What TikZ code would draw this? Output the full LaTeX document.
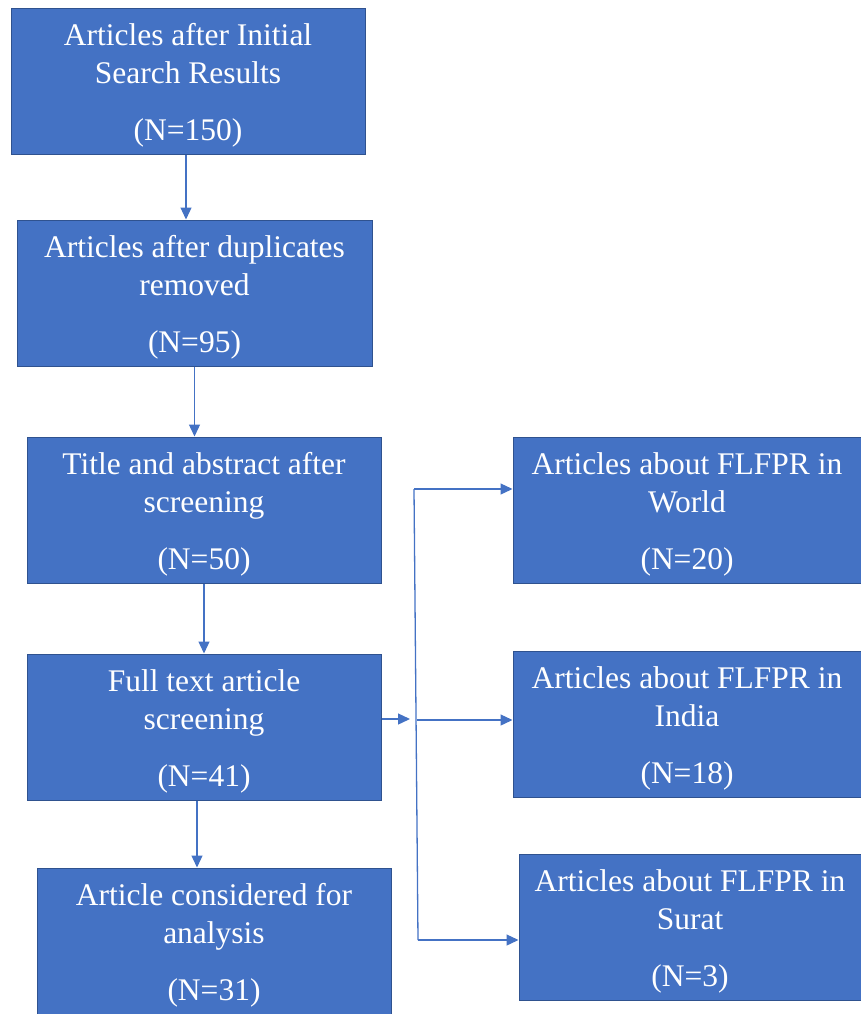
\documentclass[tikz,border=0pt]{standalone}
\usepackage{fontspec}
\setmainfont{Liberation Serif}
\newfontfamily\boxfont{Liberation Serif}
\usetikzlibrary{arrows.meta, positioning, calc}

\newcommand\lift{\rule{0pt}{30pt}}

\begin{document}
\begin{tikzpicture}[
    x=1pt, y=-1pt,
    every node/.style={font=\boxfont\fontsize{31.5}{38}\selectfont},
    box/.style={draw=boxline, fill=boxfill, text=white, line width=1pt,
        align=center, inner sep=0pt, minimum height=146pt},
    link/.style={draw=arrowcol, line width=1.3pt},
    arr/.style={link, -{Triangle[length=12pt, width=11pt]}},
]

\definecolor{boxfill}{HTML}{4472C4}
\definecolor{boxline}{HTML}{2F528F}
\definecolor{arrowcol}{HTML}{4472C4}

\useasboundingbox (0,0) rectangle (860,1014);

% ---------------------------------------------------------------- main column
\node[box, minimum width=354pt] (search) at (188,81.5)
    {\lift Articles after Initial\\Search Results\\[19pt](N=150)};
\node[box, minimum width=355pt] (dupes) at (194.5,293)
    {\lift Articles after duplicates\\removed\\[19pt](N=95)};
\node[box, minimum width=354pt] (title) at (204,510)
    {\lift Title and abstract after\\screening\\[19pt](N=50)};
\node[box, minimum width=354pt] (fulltext) at (204,727)
    {\lift Full text article\\screening\\[19pt](N=41)};
\node[box, minimum width=354pt] (final) at (214,941)
    {\lift Article considered for\\analysis\\[19pt](N=31)};

% ---------------------------------------------------------------- right column
\node[box, minimum width=348pt] (world) at (687,510)
    {\lift Articles about FLFPR in\\World\\[19pt](N=20)};
\node[box, minimum width=348pt] (india) at (687,724)
    {\lift Articles about FLFPR in\\India\\[19pt](N=18)};
\node[box, minimum width=342pt] (surat) at (690,927)
    {\lift Articles about FLFPR in\\Surat\\[19pt](N=3)};

% ---------------------------------------------------------------- arrows down
\coordinate (s1) at ($(search.south)+(-2,0)$);
\coordinate (s4) at ($(fulltext.south)+(-7,0)$);
\draw[arr] (s1) -- (s1 |- dupes.north);
\draw[arr] (dupes.south) -- (dupes.south |- title.north);
\draw[arr] (title.south) -- (title.south |- fulltext.north);
\draw[arr] (s4) -- (s4 |- final.north);

% ---------------------------------------------------------------- branch
\coordinate (join) at (410,719);
\coordinate (btop) at (414,489);
\coordinate (bmid) at (417,720);
\coordinate (bbot) at (418,940);

\draw[arr] (fulltext.east |- join) -- (join);
\draw[link] (btop) -- (bbot);
\draw[arr] (btop) -- (btop -| world.west);
\draw[arr] (bmid) -- (bmid -| india.west);
\draw[arr] (bbot) -- (bbot -| surat.west);

\end{tikzpicture}
\end{document}
